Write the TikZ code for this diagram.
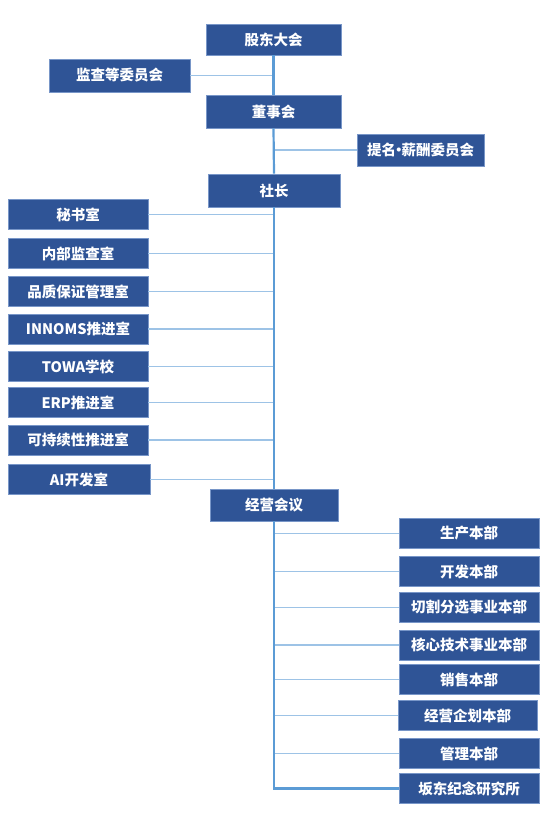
\documentclass[tikz,border=0pt]{standalone}
\usepackage{fontspec}
\setmainfont{Noto Sans CJK SC}
\usepackage{xcolor}
\usepackage{tikz}
\usetikzlibrary{positioning}

\definecolor{boxblue}{RGB}{47,84,150}
\definecolor{boxedge}{RGB}{120,150,200}
\definecolor{trunkblue}{RGB}{91,155,213}
\definecolor{branchblue}{RGB}{157,195,230}

\tikzset{
  orgbox/.style={draw=boxedge, line width=0.6pt, fill=boxblue, text=white,
    font=\fontsize{14.5}{16}\selectfont\bfseries, inner sep=0pt,
    minimum width=140pt, minimum height=30pt},
  trunk/.style={draw=trunkblue, line width=2.2pt},
  branch/.style={draw=branchblue, line width=1.8pt}
}

\begin{document}
\begin{tikzpicture}[x=1pt, y=-1pt]
  \useasboundingbox (0,0) rectangle (556,832);

  % top chain
  \node[orgbox, minimum width=135pt, minimum height=31pt] (gdh) at (273.5,39.5) {股东大会};
  \node[orgbox, minimum width=141pt, minimum height=33pt] (jcw) at (119.5,75.5) {监查等委员会};
  \node[orgbox, minimum width=135pt, minimum height=33pt] (dsh) at (273.5,111.5) {董事会};
  \node[orgbox, minimum width=127pt, minimum height=32pt] (tmw) at (420.5,150) {提名\hspace{-4.5pt}·\hspace{-4.5pt}薪酬委员会};
  \node[orgbox, minimum width=132pt, minimum height=33pt] (sz) at (274,190.5) {社长};
  \node[orgbox, minimum width=128pt, minimum height=32pt] (jy) at (274,505) {经营会议};

  % staff offices under the president
  \foreach \nm/\y/\txt in {ms/214.5/秘书室, nb/253.5/内部监查室, pz/291.5/品质保证管理室,
      inn/329/INNOMS推进室, towa/366.5/TOWA学校, erp/402.5/ERP推进室,
      kcx/440/可持续性推进室}{
    \node[orgbox] (\nm) at (78,\y) {\txt};
  }
  \node[orgbox, minimum width=142pt] (ai) at (79,479.5) {AI开发室};

  % divisions under the management meeting
  \foreach \nm/\y/\txt in {sc/533.5/生产本部, kf/571.5/开发本部, qg/607.5/切割分选事业本部,
      hx/645/核心技术事业本部, xs/679.5/销售本部, gl/753.5/管理本部,
      bd/788.5/坂东纪念研究所}{
    \node[orgbox] (\nm) at (469,\y) {\txt};
  }
  \node[orgbox, minimum width=139pt] (qh) at (467.5,715.5) {经营企划本部};

  % branches
  \draw[branch] (jcw.east) -- (jcw.east -| gdh.south);
  \draw[branch] (tmw.west) -- (tmw.west -| gdh.south);
  \foreach \nm in {ms,nb,pz,inn,towa,erp,kcx,ai}{
    \draw[branch] (\nm.east) -- (\nm.east -| sz.south);
  }
  \foreach \nm in {sc,kf,qg,hx,xs,qh,gl}{
    \draw[branch] (\nm.west) -- (\nm.west -| jy.south);
  }

  % trunk
  \draw[trunk] (gdh.south) -- (dsh.north);
  \draw[trunk] (dsh.south) -- (sz.north);
  \draw[trunk] (sz.south) -- (jy.north);
  \draw[trunk] (jy.south) |- (bd.west);

\end{tikzpicture}
\end{document}
